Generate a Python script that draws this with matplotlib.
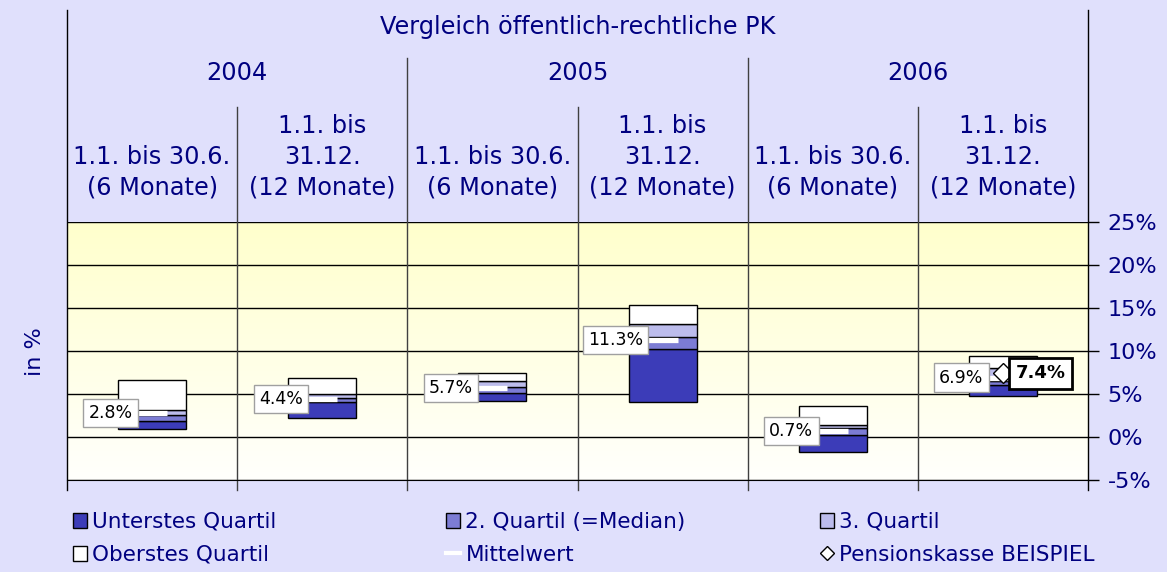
import numpy as np
import matplotlib.pyplot as plt
from matplotlib.patches import Patch
from matplotlib.lines import Line2D

# data
title = 'Vergleich öffentlich-rechtliche PK'
years = ['2004', '2005', '2006']
periods = ['1.1. bis 30.6.\n(6 Monate)', '1.1. bis\n31.12.\n(12 Monate)'] * 3
q_bottom = [0.9, 2.2, 4.2, 4.1, -1.7, 4.8]
q1_top = [1.9, 4.1, 5.15, 10.2, 0.2, 6.1]
q2_top = [2.6, 4.5, 5.8, 11.65, 1.1, 6.5]
q3_top = [3.1, 4.95, 6.55, 13.1, 1.4, 8.0]
q4_top = [6.6, 6.9, 7.4, 15.3, 3.6, 9.45]
mean = [2.8, 4.4, 5.7, 11.3, 0.7, 6.9]
beispiel = [np.nan, np.nan, np.nan, np.nan, np.nan, 7.4]
yticks = [-5, 0, 5, 10, 15, 20, 25]

navy = '#000080'
bg = '#E0E0FC'
c_q1 = '#3C3CB8'
c_q2 = '#7C7CD4'
c_q3 = '#BCBCEC'
c_q4 = 'white'

fig = plt.figure(figsize=(11.67, 5.72), dpi=100, facecolor=bg)
ax = fig.add_axes([67/1167, 92/572, 1021/1167, 258/572])
ax.set_facecolor('white')

x = np.arange(len(periods))
ax.set_xlim(-0.5, len(periods) - 0.5)
ax.set_ylim(-5, 25)

# yellow-to-white gradient background
grad = np.linspace(1, 0, 256).reshape(-1, 1)
top_col = np.array([1.0, 1.0, 0.80])
bot_col = np.array([1.0, 1.0, 0.99])
img = bot_col + (top_col - bot_col) * grad[..., None]
ax.imshow(img, extent=[0, 1, 0, 1], transform=ax.transAxes, aspect='auto', zorder=0)

for yv in yticks:
    ax.axhline(yv, color='black', lw=1, zorder=1)

# vertical separators; they reach into the header
bounds = np.arange(len(periods) + 1) - 0.5
for i, b in enumerate(bounds):
    if i == 0 or i == len(bounds) - 1:
        ytop = 1.82
        col = 'black'
    elif i % 2 == 0:
        ytop = 1.636
        col = '#404040'
    else:
        ytop = 1.446
        col = '#404040'
    ax.axvline(b, ymin=-0.04, ymax=ytop, color=col, lw=1, clip_on=False, zorder=1)

w = 0.4
q_bottom = np.array(q_bottom)
segs = [(q_bottom, np.array(q1_top), c_q1),
        (np.array(q1_top), np.array(q2_top), c_q2),
        (np.array(q2_top), np.array(q3_top), c_q3),
        (np.array(q3_top), np.array(q4_top), c_q4)]
for lo, hi, c in segs:
    ax.bar(x, hi - lo, bottom=lo, width=w, color=c, edgecolor='black', lw=1, zorder=3)

ax.plot(x, mean, ls='none', marker='_', ms=21, mew=3.8, color='white', zorder=4)
for xi, m in zip(x, mean):
    ax.annotate(f'{m:.1f}%', xy=(xi, m), xytext=(-14, 0), textcoords='offset points',
                ha='right', va='center', fontsize=12.5, color='black', zorder=5,
                bbox=dict(boxstyle='square,pad=0.3', fc='white', ec='#A0A0A0', lw=1))

ax.plot(x, beispiel, ls='none', marker='D', ms=10, mfc='white', mec='black', mew=1, zorder=6)
for xi, b in zip(x, beispiel):
    if not np.isnan(b):
        ax.annotate(f'{b:.1f}%', xy=(xi, b), xytext=(9, 0), textcoords='offset points',
                    ha='left', va='center', fontsize=13, fontweight='bold', color='black', zorder=7,
                    bbox=dict(boxstyle='square,pad=0.35', fc='white', ec='black', lw=2))

# header texts
tr = ax.get_xaxis_transform()
ax.text(np.mean(x), 1.756, title, transform=tr, ha='center', va='center', fontsize=17.3, color=navy)
for k, yr in enumerate(years):
    ax.text(2 * k + 0.5, 1.578, yr, transform=tr, ha='center', va='center', fontsize=17.3, color=navy)
for xi, p in zip(x, periods):
    ax.text(xi, 1.087, p, transform=tr, ha='center', va='bottom', fontsize=17.3, color=navy,
            multialignment='center', linespacing=1.36)

ax.set_xticks([])
ax.yaxis.tick_right()
ax.set_yticks(yticks)
ax.set_yticklabels([f'{v}%' for v in yticks], fontsize=16, color=navy)
ax.tick_params(axis='y', length=8, width=1, color='black', pad=6)
ax.spines['top'].set_visible(False)
ax.spines['left'].set_visible(False)
ax.spines['right'].set_visible(False)
ax.spines['bottom'].set_color('black')

fig.text(35/1167, 1 - 352/572, 'in %', rotation=90, ha='center', va='center', fontsize=16, color=navy)

# legend in three columns
h_q1 = Patch(fc=c_q1, ec='black', lw=1)
h_q2 = Patch(fc=c_q2, ec='black', lw=1)
h_q3 = Patch(fc=c_q3, ec='black', lw=1)
h_q4 = Patch(fc=c_q4, ec='black', lw=1)
h_mean = Line2D([], [], color='white', lw=3)
h_bsp = Line2D([], [], ls='none', marker='D', ms=7, mfc='white', mec='black', mew=1)
cols = [([h_q1, h_q4], ['Unterstes Quartil', 'Oberstes Quartil'], 73),
        ([h_q2, h_mean], ['2. Quartil (=Median)', 'Mittelwert'], 446),
        ([h_q3, h_bsp], ['3. Quartil', 'Pensionskasse BEISPIEL'], 820)]
for hs, ls, px in cols:
    leg = fig.legend(hs, ls, loc='upper left', bbox_to_anchor=(px/1167, 1 - 512/572),
                     frameon=False, fontsize=15.5, handlelength=0.65, handleheight=0.7,
                     handletextpad=0.25, labelspacing=0.6, borderpad=0, borderaxespad=0)
    for t in leg.get_texts():
        t.set_color(navy)

fig.savefig('out.png', dpi=100, facecolor=bg)
